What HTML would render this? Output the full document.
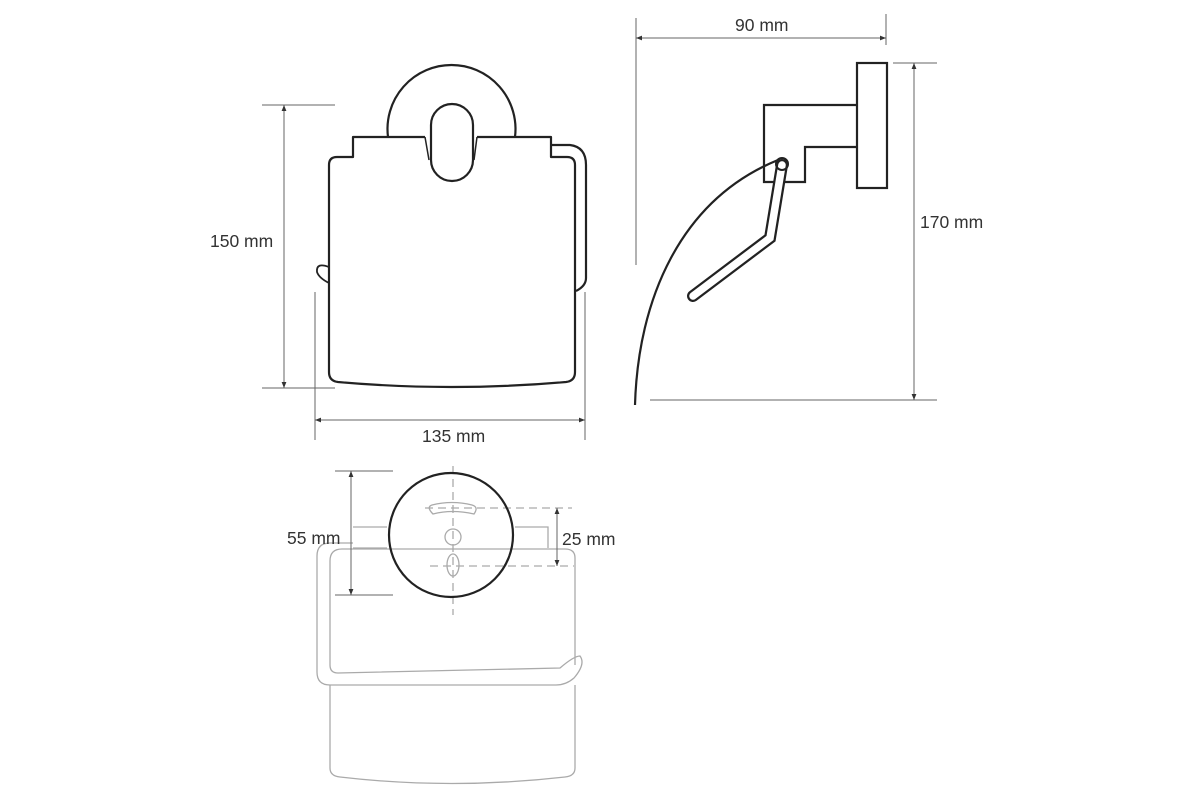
<!DOCTYPE html>
<html><head><style>html,body{margin:0;padding:0;background:#fff}svg{display:block}text{font-family:"Liberation Sans",sans-serif;font-size:17.5px;fill:#333}</style></head><body>
<svg width="1200" height="800" viewBox="0 0 1200 800" xmlns="http://www.w3.org/2000/svg">
<defs>
<marker id="a" viewBox="0 0 10 10" refX="10" refY="5" markerWidth="6" markerHeight="6" orient="auto-start-reverse"><path d="M0,1 L10,5 L0,9 z" fill="#333"/></marker>
</defs>
<!-- FRONT VIEW -->
<g fill="none" stroke="#222" stroke-width="2.2" stroke-linejoin="round">
<path d="M388,137 A64,64 0 1 1 515,137"/>
<path d="M431,160 L431,125 A21,21 0 0 1 473,125 L473,160 A21,21 0 0 1 431,160 Z" fill="#fff"/>
<path d="M425,137 L353,137 L353,157 L337,157 Q329,157 329,165 L329,372 Q329,381 338,382 Q451,392 566,382 Q575,381 575,372 L575,165 Q575,157 567,157 L551,157 L551,137 L477,137"/>
<path d="M425,137 L429,160 M477,137 L474,160" stroke-width="1.5"/>
<path d="M551,145 L570,145 Q586,147 586,165 L586,278 Q586,286 576,291"/>
<path d="M329,267 Q316,262 317,272 Q319,278 329,283" stroke-width="1.8"/>
</g>
<g stroke="#666" stroke-width="1" fill="none">
<line x1="262" y1="105" x2="335" y2="105"/><line x1="262" y1="388" x2="335" y2="388"/>
<line x1="284" y1="105" x2="284" y2="388" marker-start="url(#a)" marker-end="url(#a)"/>
<line x1="315" y1="292" x2="315" y2="440"/><line x1="585" y1="292" x2="585" y2="440"/>
<line x1="315" y1="420" x2="585" y2="420" marker-start="url(#a)" marker-end="url(#a)"/>
</g>
<text x="210" y="247">150 mm</text>
<text x="422" y="442">135 mm</text>
<!-- SIDE VIEW -->
<g fill="none" stroke="#222" stroke-width="2.2" stroke-linejoin="miter">
<rect x="857" y="63" width="30" height="125"/>
<path d="M857,105 L764,105 L764,182 L805,182 L805,147 L857,147"/>
<path d="M635,405 C638,300 680,200 778,160"/>
<path d="M782,165 L770,238 L693,296" stroke="#222" stroke-width="12" stroke-linecap="round"/>
<path d="M782,165 L770,238 L693,296" stroke="#fff" stroke-width="7.5" stroke-linecap="round"/>
<circle cx="782" cy="164" r="6" stroke-width="2"/>
</g>
<g stroke="#666" stroke-width="1" fill="none">
<line x1="636" y1="18" x2="636" y2="265"/><line x1="886" y1="14" x2="886" y2="45"/>
<line x1="636" y1="38" x2="886" y2="38" marker-start="url(#a)" marker-end="url(#a)"/>
<line x1="893" y1="63" x2="937" y2="63"/><line x1="650" y1="400" x2="937" y2="400"/>
<line x1="914" y1="63" x2="914" y2="400" marker-start="url(#a)" marker-end="url(#a)"/>
</g>
<text x="735" y="31">90 mm</text>
<text x="920" y="228">170 mm</text>
<!-- TOP VIEW -->
<g fill="none" stroke="#aaa" stroke-width="1.3">
<path d="M353,543 L330,543 Q317,543 317,556 L317,672 Q317,685 330,685 L556,685 Q566,685 574,678 Q586,664 580,656 Q574,656 560,668 L338,673 Q330,673 330,665 L330,561 Q330,549 342,549 L565,549 Q575,549 575,558 L575,665"/>
<path d="M330,685 L330,768 Q330,776 340,777 Q451,790 565,777 Q575,776 575,768 L575,685"/>
<path d="M353,527 L387,527 M353,548 L387,548 M515,527 L548,527 L548,548"/>
<path d="M432,505 Q452,500 472,505 Q479,507 474,514 Q452,509 433,514 Q426,507 432,505 Z"/>
<circle cx="453" cy="537" r="8"/>
<ellipse cx="453" cy="565" rx="6" ry="11"/>
<g stroke-dasharray="8,5"><line x1="453" y1="466" x2="453" y2="615"/><line x1="425" y1="508" x2="572" y2="508"/><line x1="430" y1="566" x2="574" y2="566"/></g>
</g>
<circle cx="451" cy="535" r="62" fill="none" stroke="#222" stroke-width="2.2"/>
<g stroke="#666" stroke-width="1" fill="none">
<line x1="335" y1="471" x2="393" y2="471"/><line x1="335" y1="595" x2="393" y2="595"/>
<line x1="351" y1="471" x2="351" y2="595" marker-start="url(#a)" marker-end="url(#a)"/>
<line x1="557" y1="508" x2="557" y2="566" marker-start="url(#a)" marker-end="url(#a)"/>
</g>
<text x="287" y="544">55 mm</text>
<text x="562" y="545">25 mm</text>
</svg>
</body></html>
